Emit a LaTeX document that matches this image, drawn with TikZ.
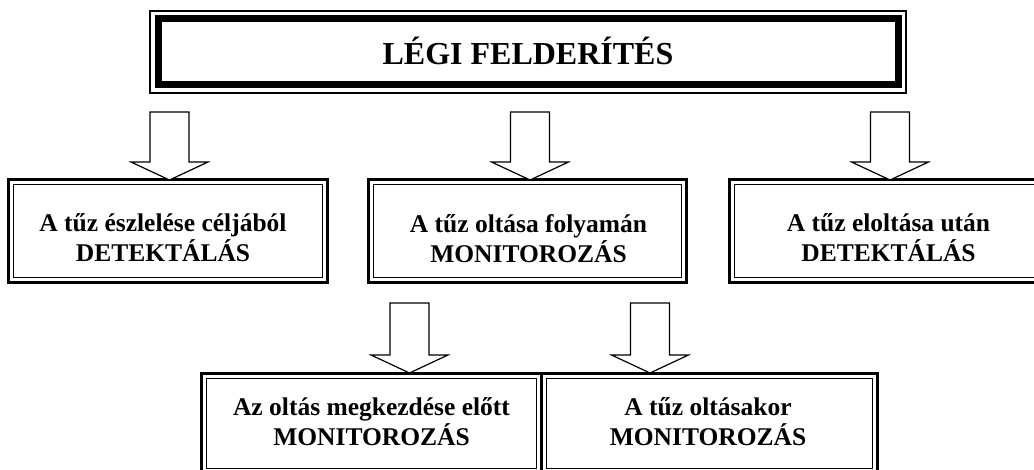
\documentclass[tikz,border=0pt]{standalone}
\usepackage{fontspec}
\setmainfont{Liberation Serif}
\tikzset{
  titleout/.style={draw, line width=1.2pt, inner sep=0pt, outer sep=0pt},
  titlein/.style={line width=7pt},
  boxout/.style={draw, line width=3pt, inner sep=0pt, outer sep=0pt},
  boxin/.style={line width=1pt},
  barrow/.style={draw, fill=white, line width=1.2pt, line join=miter},
  titletext/.style={anchor=base, inner sep=0pt, font=\fontsize{32}{36}\selectfont\bfseries},
  boxtext/.style={anchor=base, inner sep=0pt, font=\fontsize{25.5}{30}\selectfont\bfseries}
}
\newcommand\blockarrow[2]{\draw[barrow] (#1) -- ++(38.5,-18) -- ++(-19,0) -- ++(0,-#2) -- ++(-39,0) -- ++(0,#2) -- ++(-19,0) -- cycle;}
\newcommand\innerframe[1]{\draw[boxin] ([shift={(5,5)}]#1.north west) rectangle ([shift={(-5,-5)}]#1.south east);}
\begin{document}
\begin{tikzpicture}[x=1pt,y=-1pt]
\path[use as bounding box, fill=white] (0,0) rectangle (1034,470);

% title box
\node[titleout, minimum width=756pt, minimum height=82pt] (t) at (528,52) {};
\draw[titlein] ([shift={(8,8)}]t.north west) rectangle ([shift={(-8,-8)}]t.south east);
\node[titletext] (tt) at (528,65) {LÉGI FELDERÍTÉS};

% level 2 boxes
\node[boxout, minimum width=319pt, minimum height=103pt] (b1) at (167.5,231.5) {};
\innerframe{b1}
\node[boxout, minimum width=318pt, minimum height=103pt] (b2) at (527,231.5) {};
\innerframe{b2}
\node[boxout, minimum width=321pt, minimum height=103pt] (b3) at (889.5,231.5) {};
\innerframe{b3}

\node[boxtext] (b1a) at (163,232) {A tűz észlelése céljából};
\node[boxtext] (b1b) at (163,262) {DETEKTÁLÁS};
\node[boxtext] (b2a) at (528.5,233) {A tűz oltása folyamán};
\node[boxtext] (b2b) at (528.5,263) {MONITOROZÁS};
\node[boxtext] (b3a) at (888.5,232) {A tűz eloltása után};
\node[boxtext] (b3b) at (888.5,262) {DETEKTÁLÁS};

% bottom boxes
\node[boxout, minimum width=340pt, minimum height=99pt] (b4) at (371,423.5) {};
\innerframe{b4}
\node[boxout, minimum width=336pt, minimum height=99pt] (b5) at (709,423.5) {};
\innerframe{b5}

\node[boxtext] (b4a) at (371.5,415) {Az oltás megkezdése előtt};
\node[boxtext] (b4b) at (371.5,446) {MONITOROZÁS};
\node[boxtext] (b5a) at (708,415) {A tűz oltásakor};
\node[boxtext] (b5b) at (708,446) {MONITOROZÁS};

% block arrows
\coordinate (a1) at (169.5,180);
\coordinate (a2) at (530,180);
\coordinate (a3) at (890,180);
\coordinate (a4) at (409.5,373);
\coordinate (a5) at (650,373);
\blockarrow{a1}{50}
\blockarrow{a2}{50}
\blockarrow{a3}{50}
\blockarrow{a4}{52}
\blockarrow{a5}{52}
\end{tikzpicture}
\end{document}
